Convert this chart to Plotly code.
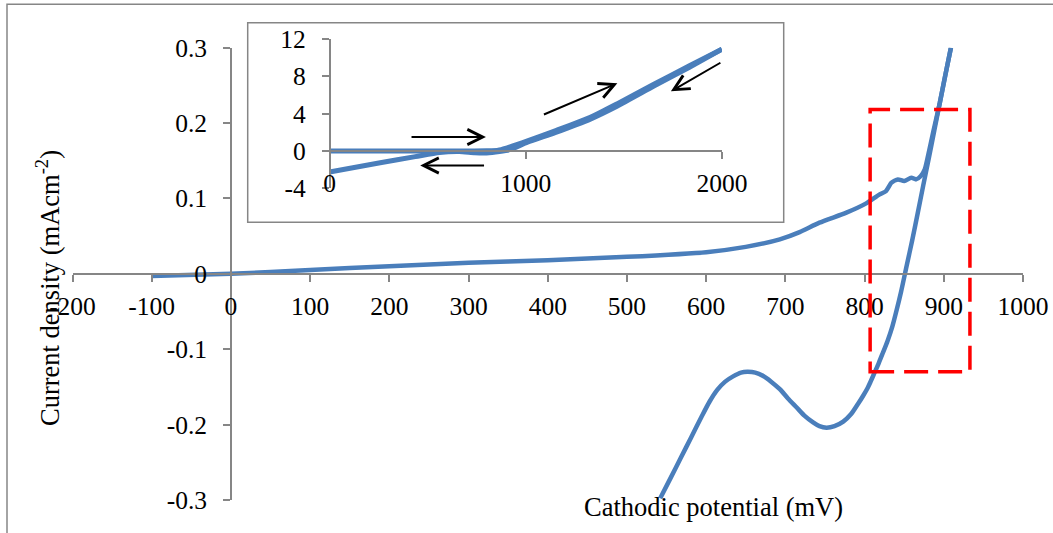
import plotly.graph_objects as go

# Main sweep (mV vs mA/cm2)
anodic_mv = [-100, 0, 100, 200, 300, 400, 500, 600, 650, 693, 718, 743, 777, 802,
             819, 827, 834, 842, 850, 859, 865, 871, 876, 880, 887, 895, 902, 909]
anodic_cd = [-0.003, 0.0, 0.005, 0.0102, 0.0146, 0.0182, 0.0226, 0.0288, 0.0358, 0.0458,
             0.0554, 0.0679, 0.0812, 0.0935, 0.1054, 0.1098, 0.121, 0.1253, 0.1231, 0.1276,
             0.1253, 0.1297, 0.1386, 0.156, 0.19, 0.227, 0.264, 0.3]

cathodic_mv = [909, 902, 895, 888, 881, 874, 867, 860, 853, 846, 840, 835, 829, 823, 818,
               813, 808, 804, 798, 792, 783, 773, 762, 752, 743, 735, 724, 714, 703, 693,
               682, 672, 662, 652, 644, 634, 624, 614, 604, 594, 581, 568, 555, 542]
cathodic_cd = [0.3, 0.264, 0.227, 0.19, 0.153, 0.117, 0.08, 0.044, 0.010, -0.024, -0.05,
               -0.07, -0.089, -0.105, -0.118, -0.130, -0.142, -0.151, -0.162, -0.172,
               -0.186, -0.196, -0.202, -0.204, -0.202, -0.197, -0.188, -0.177, -0.165,
               -0.153, -0.143, -0.1355, -0.131, -0.130, -0.131, -0.136, -0.143, -0.154,
               -0.170, -0.190, -0.217, -0.244, -0.271, -0.2977]

# Inset: full sweep up to 2000 mV
inset_fwd_mv = [0, 200, 400, 600, 700, 800, 860, 902, 950, 1009, 1153, 1332, 1465, 1653, 1832, 2000]
inset_fwd_cd = [0, 0, 0, 0, 0, 0.02, 0.08, 0.32, 0.65, 1.1, 2.2, 3.65, 5.05, 7.15, 9.1, 10.9]
inset_rev_mv = [2000, 1832, 1653, 1465, 1332, 1153, 1009, 918, 866, 800, 740, 660, 560, 437, 258, 0]
inset_rev_cd = [10.9, 8.95, 6.95, 4.8, 3.45, 2.0, 0.95, 0.15, -0.05, -0.2, -0.18, -0.05, -0.15, -0.6, -1.25, -2.25]

x_ticks = [-200, -100, 0, 100, 200, 300, 400, 500, 600, 700, 800, 900, 1000]
x_tick_labels = ["-200", "-100", "0", "100", "200", "300", "400", "500", "600", "700", "800", "900", "1000"]
y_ticks = [-0.3, -0.2, -0.1, 0, 0.1, 0.2, 0.3]
y_tick_labels = ["-0.3", "-0.2", "-0.1", "0", "0.1", "0.2", "0.3"]
inset_x_ticks = [0, 1000, 2000]
inset_x_labels = ["0", "1000", "2000"]
inset_y_ticks = [-4, 0, 4, 8, 12]
inset_y_labels = ["-4", "0", "4", "8", "12"]

# highlighted region (mV, mA/cm2)
box_mv = [807, 933]
box_cd = [-0.13, 0.218]

# sweep direction arrows in inset: (tail_mv, tail_cd, head_mv, head_cd)
arrows = [
    (410, 1.5, 797, 1.5),
    (795, -1.54, 462, -1.54),
    (1085, 3.85, 1467, 7.25),
    (2000, 9.55, 1740, 6.4),
]

W, H = 1053, 533
x_range = [-200, 1000]
y_range = [-0.3, 0.3]
ix_range = [0, 2000]
iy_range = [-4, 12]
main_x_dom = [72.5 / W, 1023 / W]
main_y_dom = [1 - 500 / H, 1 - 47.7 / H]
inset_x_dom = [329.6 / W, 721.9 / W]
inset_y_dom = [1 - 188.4 / H, 1 - 39 / H]


def frac(v, rng, dom):
    return dom[0] + (v - rng[0]) / (rng[1] - rng[0]) * (dom[1] - dom[0])


blue = '#4A7EBB'
grey = '#868686'
tick_font = dict(family='Liberation Serif', size=25.5, color='black')
title_font = dict(family='Liberation Serif', size=26.5, color='black')

fig = go.Figure()
for xs, ys, ax, ay, w, sm in [
    (anodic_mv, anodic_cd, 'x', 'y', 4.5, 0.6),
    (cathodic_mv, cathodic_cd, 'x', 'y', 4.5, 0.8),
    (inset_fwd_mv, inset_fwd_cd, 'x2', 'y2', 5, 0.6),
    (inset_rev_mv, inset_rev_cd, 'x2', 'y2', 5, 0.6),
]:
    fig.add_trace(go.Scatter(x=xs, y=ys, mode='lines', xaxis=ax, yaxis=ay,
                             line=dict(color=blue, width=w, shape='spline', smoothing=sm),
                             showlegend=False, hoverinfo='skip'))

axis_common = dict(showgrid=False, zeroline=False, showline=True, linecolor=grey, linewidth=1.5,
                   ticks='outside', ticklen=7, tickwidth=1.5, tickcolor=grey, tickfont=tick_font,
                   automargin=False)

fig.update_layout(
    width=W, height=H,
    margin=dict(l=0, r=0, t=0, b=0, pad=0, autoexpand=False),
    paper_bgcolor='white', plot_bgcolor='white',
    font=tick_font,
    showlegend=False,
    xaxis=dict(axis_common, domain=main_x_dom, range=x_range, anchor='free',
               position=frac(0, y_range, main_y_dom), tickvals=x_ticks, ticktext=x_tick_labels,
               ticklabelstandoff=3),
    yaxis=dict(axis_common, domain=main_y_dom, range=y_range, anchor='free',
               position=frac(0, x_range, main_x_dom), tickvals=y_ticks, ticktext=y_tick_labels,
               ticklabelstandoff=11),
    xaxis2=dict(axis_common, domain=inset_x_dom, range=ix_range, anchor='free',
                position=frac(0, iy_range, inset_y_dom), tickvals=inset_x_ticks,
                showticklabels=False),
    xaxis3=dict(domain=inset_x_dom, range=ix_range, overlaying='x2', anchor='free',
                position=frac(-1.52, iy_range, inset_y_dom), showline=False, showgrid=False,
                zeroline=False, ticks='', tickvals=inset_x_ticks, ticktext=inset_x_labels,
                tickfont=tick_font, automargin=False),
    yaxis2=dict(axis_common, domain=inset_y_dom, range=iy_range, anchor='free',
                position=inset_x_dom[0], tickvals=inset_y_ticks, ticktext=inset_y_labels,
                ticklabelstandoff=11),
)

# invisible point so xaxis3 gets drawn
fig.add_trace(go.Scatter(x=[ix_range[0]], y=[iy_range[0]], xaxis='x3', yaxis='y2', mode='markers',
                         marker=dict(opacity=0), showlegend=False, hoverinfo='skip'))

# outer frame and inset frame
fig.add_shape(type='rect', xref='paper', yref='paper', x0=7 / W, x1=1.05, y0=-0.05, y1=1 - 4.3 / H,
              line=dict(color=grey, width=1.5))
fig.add_shape(type='rect', xref='paper', yref='paper', x0=247.7 / W, x1=783.7 / W,
              y0=1 - 222.3 / H, y1=1 - 22.7 / H, line=dict(color=grey, width=1.5))
# red dashed box
fig.add_shape(type='rect', xref='x', yref='y', x0=box_mv[0], x1=box_mv[1], y0=box_cd[0], y1=box_cd[1],
              line=dict(color='#FF0000', width=3.5, dash='24px,10px'))

for tx, ty, hx, hy in arrows:
    fig.add_annotation(x=hx, y=hy, ax=tx, ay=ty, xref='x2', yref='y2', axref='x2', ayref='y2',
                       text='', showarrow=True, arrowhead=5, arrowsize=1.5, arrowwidth=2,
                       arrowcolor='black', standoff=0)

fig.add_annotation(text='Current density (mAcm<sup>-2</sup>)', xref='paper', yref='paper',
                   x=48 / W, y=1 - 288 / H, textangle=-90, showarrow=False, font=title_font,
                   xanchor='center', yanchor='middle')
fig.add_annotation(text='Cathodic potential (mV)', xref='paper', yref='paper',
                   x=713.5 / W, y=1 - 507 / H, showarrow=False, font=title_font,
                   xanchor='center', yanchor='middle')

fig.write_html("out.html", config={'displayModeBar': False},
               post_script="document.body.style.margin='0';")
